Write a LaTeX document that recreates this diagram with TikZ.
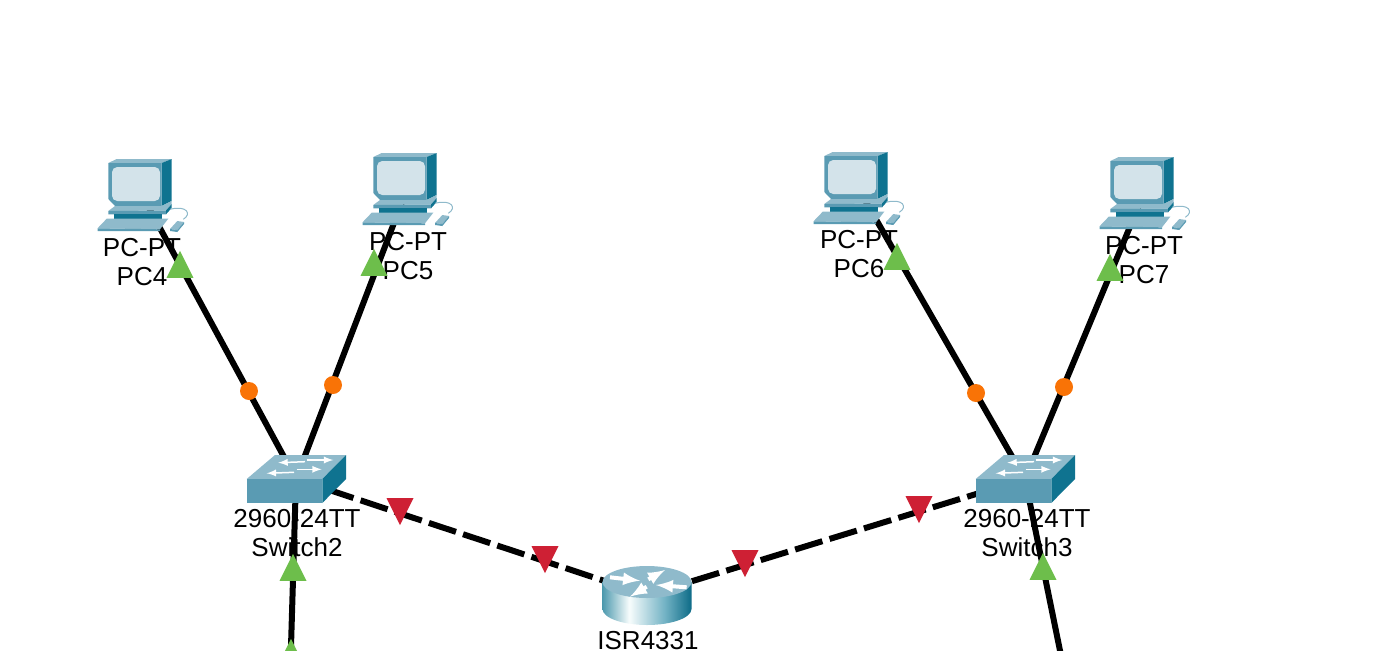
\documentclass[tikz,border=0pt]{standalone}
\usepackage{fontspec}
\setmainfont{Liberation Sans}
\usetikzlibrary{shapes.geometric}
\definecolor{iconfront}{HTML}{5A9BB3}
\definecolor{icontop}{HTML}{8FBACB}
\definecolor{iconside}{HTML}{0F7390}
\definecolor{iconscreen}{HTML}{D3E3EA}
\definecolor{linkup}{HTML}{6DBE4B}
\definecolor{linkdown}{HTML}{CE2034}
\definecolor{linkwait}{HTML}{F97306}
\pgfdeclarehorizontalshading{routerside}{100bp}{rgb(0bp)=(0.30,0.60,0.68);rgb(25bp)=(0.30,0.60,0.68);rgb(40bp)=(0.97,0.99,0.99);rgb(60bp)=(0.45,0.70,0.77);rgb(75bp)=(0.05,0.42,0.53);rgb(100bp)=(0.05,0.42,0.53)}
\tikzset{
  wire/.style={line width=.12cm},
  dashwire/.style={wire,dash pattern=on .57cm off .15cm,dash phase=.08cm},
  lbl/.style={font=\fontsize{14.8}{16.5}\selectfont,align=center,inner sep=0},
  upmark/.style={isosceles triangle,isosceles triangle stretches,shape border rotate=90,minimum width=.54cm,minimum height=.54cm,inner sep=0,fill=linkup,yshift=-.09cm},
  downmark/.style={isosceles triangle,isosceles triangle stretches,shape border rotate=-90,minimum width=.54cm,minimum height=.54cm,inner sep=0,fill=linkdown,yshift=.09cm},
  waitmark/.style={circle,minimum size=.36cm,inner sep=0,fill=linkwait},
  pcicon/.pic={
    \fill[icontop] (-33.7,-32)--(-25.3,-36)--(29.7,-36)--(19.7,-32)--cycle;
    \fill[iconside] (19.7,-32)--(29.7,-36)--(29.7,6)--(19.7,11)--cycle;
    \fill[iconfront] (-33.7,-32)--(19.7,-32)--(19.7,11)--(-27,11)--(-33.7,4)--cycle;
    \fill[iconscreen,rounded corners=3] (-30,-28) rectangle (18,6);
    \fill[icontop] (-33.7,16)--(-27,11)--(19.7,11)--(29.7,6)--(29.7,9)--(24,15.5)--cycle;
    \fill[iconfront] (-33.7,16)--(24,15.5)--(24,19.3)--(-33.7,19.3)--cycle;
    \fill[iconside] (24,15.5)--(29.7,9)--(29.7,13)--(24,19.3)--cycle;
    \fill[iconside] (-28,19.3) rectangle (19.7,23.7);
    \fill[icontop] (-44.5,33.3)--(-35.3,23.7)--(26.3,23.7)--(18,34.3)--cycle;
    \fill[iconfront] (-44.5,33.3)--(18,34.3)--(18,36)--(-44.5,36)--cycle;
    \fill[icontop] (28,34)--(35.3,26)--(42,27)--(35.3,35)--cycle;
    \fill[iconfront] (28,34)--(35.3,35)--(42,27)--(42,29)--(35.3,37)--(28,36)--cycle;
    \draw[icontop,line width=.02cm] (28,14.3) .. controls (45,10) and (50,19) .. (41.3,24.3);
  },
  switchicon/.pic={
    \fill[icontop] (-49.3,0)--(-21,-24)--(50,-24)--(26.3,0)--cycle;
    \fill[iconfront] (-49.3,0) rectangle (26.3,24);
    \fill[iconside] (26.3,0)--(50,-24)--(50,0)--(26.3,24)--cycle;
    \draw[white,line width=.03cm,-latex] (9,-17.3)--(-17.7,-16.3);
    \draw[white,line width=.03cm,-latex] (10.7,-19)--(37.3,-19);
    \draw[white,line width=.03cm,-latex] (-2,-6.7)--(-29.3,-5.7);
    \draw[white,line width=.03cm,-latex] (0.7,-9.7)--(25.7,-9.7);
  },
  routericon/.pic={
    \shade[shading=routerside] (-44.5,-13) -- (-44.5,14) arc[start angle=180,end angle=0,x radius=44.5,y radius=16] -- (44.5,-13) -- cycle;
    \fill[icontop] (0,-13) ellipse[x radius=44.5,y radius=16];
    \draw[white,line width=.08cm,-latex] (-37,-17.7)--(-7,-14.3);
    \draw[white,line width=.08cm,-latex] (1.3,-15.7)--(18,-25);
    \draw[white,line width=.08cm,-latex] (39.7,-7.7)--(9,-10);
    \draw[white,line width=.08cm,-latex] (-0.3,-8.3)--(-17,1.7);
  }
}
\begin{document}
\begin{tikzpicture}[x=.02cm,y=-.02cm]
\useasboundingbox (0,0) rectangle (1400,650);
\clip (0,0) rectangle (1400,650);
\coordinate (pc4) at (142,195);
\coordinate (pc5) at (407,189);
\coordinate (pc6) at (858,188);
\coordinate (pc7) at (1144,193);
\coordinate (sw2) at (296,479);
\coordinate (sw3) at (1025,479);
\coordinate (isr) at (647,595);
\coordinate (down2) at (290,680);
\coordinate (down3) at (1066,680);
% links
\draw[wire] (pc4)--(sw2)--(pc5);
\draw[wire] (pc6)--(sw3)--(pc7);
\draw[wire] (sw2)--(down2);
\draw[wire] (sw3)--(down3);
\draw[dashwire] (sw2)--(isr);
\draw[dashwire] (sw3)--(isr);
% devices
\foreach \n in {pc4,pc5,pc6,pc7}{
  \pic at (\n) {pcicon};
}
\foreach \n in {sw2,sw3}{
  \pic at (\n) {switchicon};
}
\pic at (isr) {routericon};
% labels
\node[lbl] (pc4lbl) at (142,262) {PC-PT\\PC4};
\node[lbl] (pc5lbl) at (408,256) {PC-PT\\PC5};
\node[lbl] (pc6lbl) at (859,254) {PC-PT\\PC6};
\node[lbl] (pc7lbl) at (1144,260) {PC-PT\\PC7};
\node[lbl] (sw2lbl) at (297,533) {2960-24TT\\Switch2};
\node[lbl] (sw3lbl) at (1027,533) {2960-24TT\\Switch3};
\node[lbl] (isrlbl) at (648,641) {ISR4331};
% link lights
\foreach \n/\x/\y in {a/180/265,b/374/263,c/897/257,d/1110/268,e/293/568,f/1043/567,g/291/653}{
  \node[upmark] (up\n) at (\x,\y) {};
}
\foreach \n/\x/\y in {a/400/511,b/545/559,c/745/563,d/919/509}{
  \node[downmark] (red\n) at (\x,\y) {};
}
\foreach \n/\x/\y in {a/249/391,b/333/385,c/976/393,d/1064/387}{
  \node[waitmark] (wait\n) at (\x,\y) {};
}
\end{tikzpicture}
\end{document}
